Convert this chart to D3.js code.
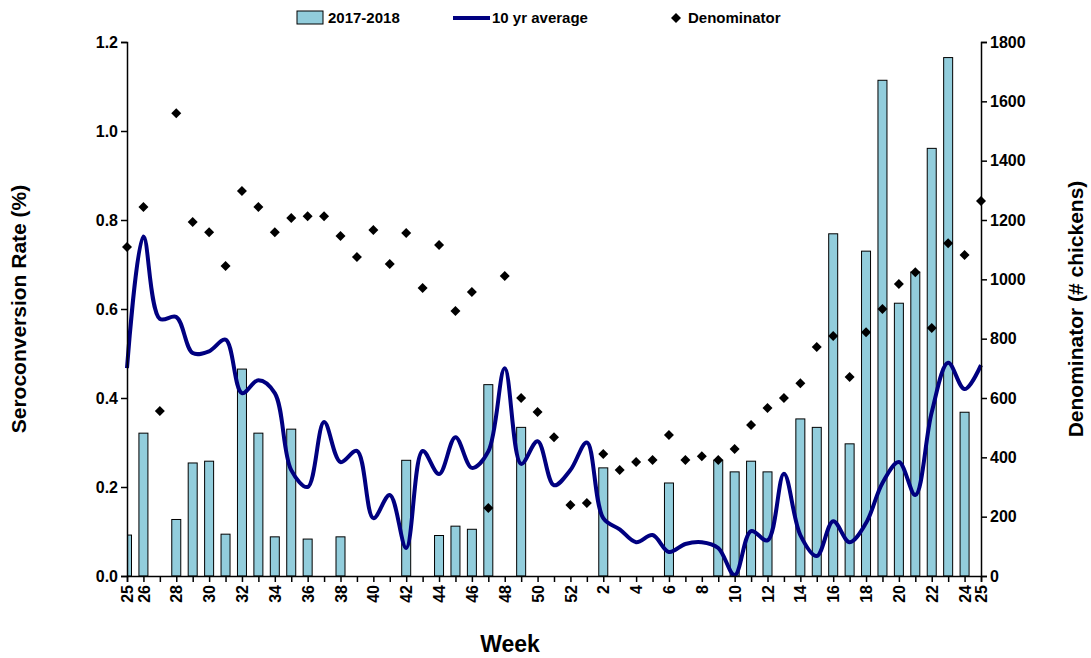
<!DOCTYPE html>
<html>
<head>
<meta charset="utf-8">
<script src="https://cdn.jsdelivr.net/npm/d3@7"></script>
<style>
  body { margin: 0; background: #fff; font-family: Arial, "Liberation Sans", sans-serif; }
  text { font-family: Arial, "Liberation Sans", sans-serif; font-weight: bold; }
</style>
</head>
<body>
<script>
var weeks = [25,26,27,28,29,30,31,32,33,34,35,36,37,38,39,40,41,42,43,44,45,46,47,48,49,50,51,52,
             1,2,3,4,5,6,7,8,9,10,11,12,13,14,15,16,17,18,19,20,21,22,23,24,25];
var shownLabels = [0,1,3,5,7,9,11,13,15,17,19,21,23,25,27,29,31,33,35,37,39,41,43,45,47,49,51,52];

var rate2017 = [0.092,0.321,0,0.127,0.254,0.258,0.094,0.465,0.321,0.088,0.33,0.083,0,0.088,0,0,0,0.26,0,0.091,0.112,0.105,0.43,0,0.334,0,0,0,
                0,0.243,0,0,0,0.209,0,0,0.26,0.234,0.258,0.234,0,0.353,0.334,0.769,0.297,0.73,1.114,0.613,0.683,0.961,1.165,0.368,0];

var avg10 = [0.467,0.763,0.578,0.582,0.501,0.505,0.531,0.411,0.44,0.411,0.238,0.2,0.346,0.256,0.281,0.13,0.182,0.063,0.281,0.229,0.312,0.243,0.28,0.467,0.252,0.303,0.204,0.238,
             0.3,0.13,0.105,0.076,0.092,0.054,0.072,0.076,0.063,0.002,0.101,0.08,0.23,0.092,0.045,0.123,0.076,0.119,0.209,0.256,0.182,0.368,0.479,0.42,0.474];

var denominator = [1109,1244,556,1560,1193,1159,1045,1298,1244,1159,1207,1213,1213,1146,1075,1166,1052,1156,971,1116,893,957,229,1011,600,553,468,239,
                   246,411,357,384,391,475,391,404,391,428,509,566,600,650,772,809,671,822,900,984,1024,836,1122,1082,1264];

var W = 1091, H = 658;
var margin = {top: 42, right: 110, bottom: 82, left: 127};
var width = W - margin.left - margin.right;
var height = H - margin.top - margin.bottom;

var svg = d3.select("body").append("svg").attr("width", W).attr("height", H);
var g = svg.append("g").attr("transform", `translate(${margin.left},${margin.top})`);

var idx = d3.range(weeks.length);
var x = d3.scaleLinear().domain([0, weeks.length - 1]).range([0, width]);
var y = d3.scaleLinear().domain([0, 1.2]).range([height, 0]);
var y2 = d3.scaleLinear().domain([0, 1800]).range([height, 0]);

g.append("clipPath").attr("id", "clip")
  .append("rect").attr("x", 0).attr("y", -5).attr("width", width).attr("height", height + 5);

// bars
var bw = 9;
g.append("g").attr("clip-path", "url(#clip)")
  .selectAll("rect").data(idx.filter(i => rate2017[i] > 0)).enter().append("rect")
  .attr("x", i => x(i) - bw / 2)
  .attr("y", i => y(rate2017[i]))
  .attr("width", bw)
  .attr("height", i => height - y(rate2017[i]))
  .attr("fill", "#92cddc")
  .attr("stroke", "#000")
  .attr("stroke-width", 1);

// 10 yr average line
var line = d3.line().x(i => x(i)).y(i => y(avg10[i])).curve(d3.curveCatmullRom.alpha(0.5));
g.append("path").datum(idx).attr("d", line)
  .attr("fill", "none").attr("stroke", "#000080").attr("stroke-width", 4);

// denominator points (square turned 45 degrees)
var diamond = "M0,-5L5,0L0,5L-5,0Z";
g.append("g").selectAll("path").data(idx).enter().append("path")
  .attr("d", diamond)
  .attr("transform", i => `translate(${x(i)},${y2(denominator[i])})`)
  .attr("fill", "#000");

// axes
var xAxis = d3.axisBottom(x).tickValues(idx).tickSize(6)
  .tickFormat(i => shownLabels.indexOf(i) >= 0 ? weeks[i] : "");
var xg = g.append("g").attr("transform", `translate(0,${height})`).call(xAxis);
xg.selectAll("text")
  .attr("transform", "rotate(-90)")
  .attr("x", -9).attr("y", 0).attr("dy", "0.35em")
  .style("text-anchor", "end").style("font-size", "16px");

var yg = g.append("g").call(d3.axisLeft(y).ticks(6).tickFormat(d3.format(".1f")).tickSize(6));
yg.selectAll("text").style("font-size", "16px");

var y2g = g.append("g").attr("transform", `translate(${width},0)`)
  .call(d3.axisRight(y2).ticks(9).tickFormat(d3.format("d")).tickSize(6));
y2g.selectAll("text").style("font-size", "16px");

svg.selectAll(".domain").attr("stroke", "#000").attr("stroke-width", 1.5);
svg.selectAll(".tick line").attr("stroke", "#000").attr("stroke-width", 1.5);

// axis titles
svg.append("text").attr("transform", `translate(26,${margin.top + height / 2}) rotate(-90)`)
  .attr("text-anchor", "middle").style("font-size", "21px").text("Seroconversion Rate (%)");
svg.append("text").attr("transform", `translate(1083,${margin.top + height / 2}) rotate(-90)`)
  .attr("text-anchor", "middle").style("font-size", "21px").text("Denominator (# chickens)");
svg.append("text").attr("x", 510).attr("y", 652)
  .attr("text-anchor", "middle").style("font-size", "23px").text("Week");

// legend
var lg = svg.append("g");
lg.append("rect").attr("x", 297).attr("y", 11).attr("width", 26).attr("height", 13)
  .attr("fill", "#92cddc").attr("stroke", "#000");
lg.append("text").attr("x", 328).attr("y", 23).style("font-size", "15px").text("2017-2018");
lg.append("line").attr("x1", 453).attr("x2", 490).attr("y1", 18).attr("y2", 18)
  .attr("stroke", "#000080").attr("stroke-width", 4);
lg.append("text").attr("x", 492).attr("y", 23).style("font-size", "15px").text("10 yr average");
lg.append("path").attr("d", diamond).attr("transform", "translate(676,18)").attr("fill", "#000");
lg.append("text").attr("x", 688).attr("y", 23).style("font-size", "15px").text("Denominator");
</script>
</body>
</html>
